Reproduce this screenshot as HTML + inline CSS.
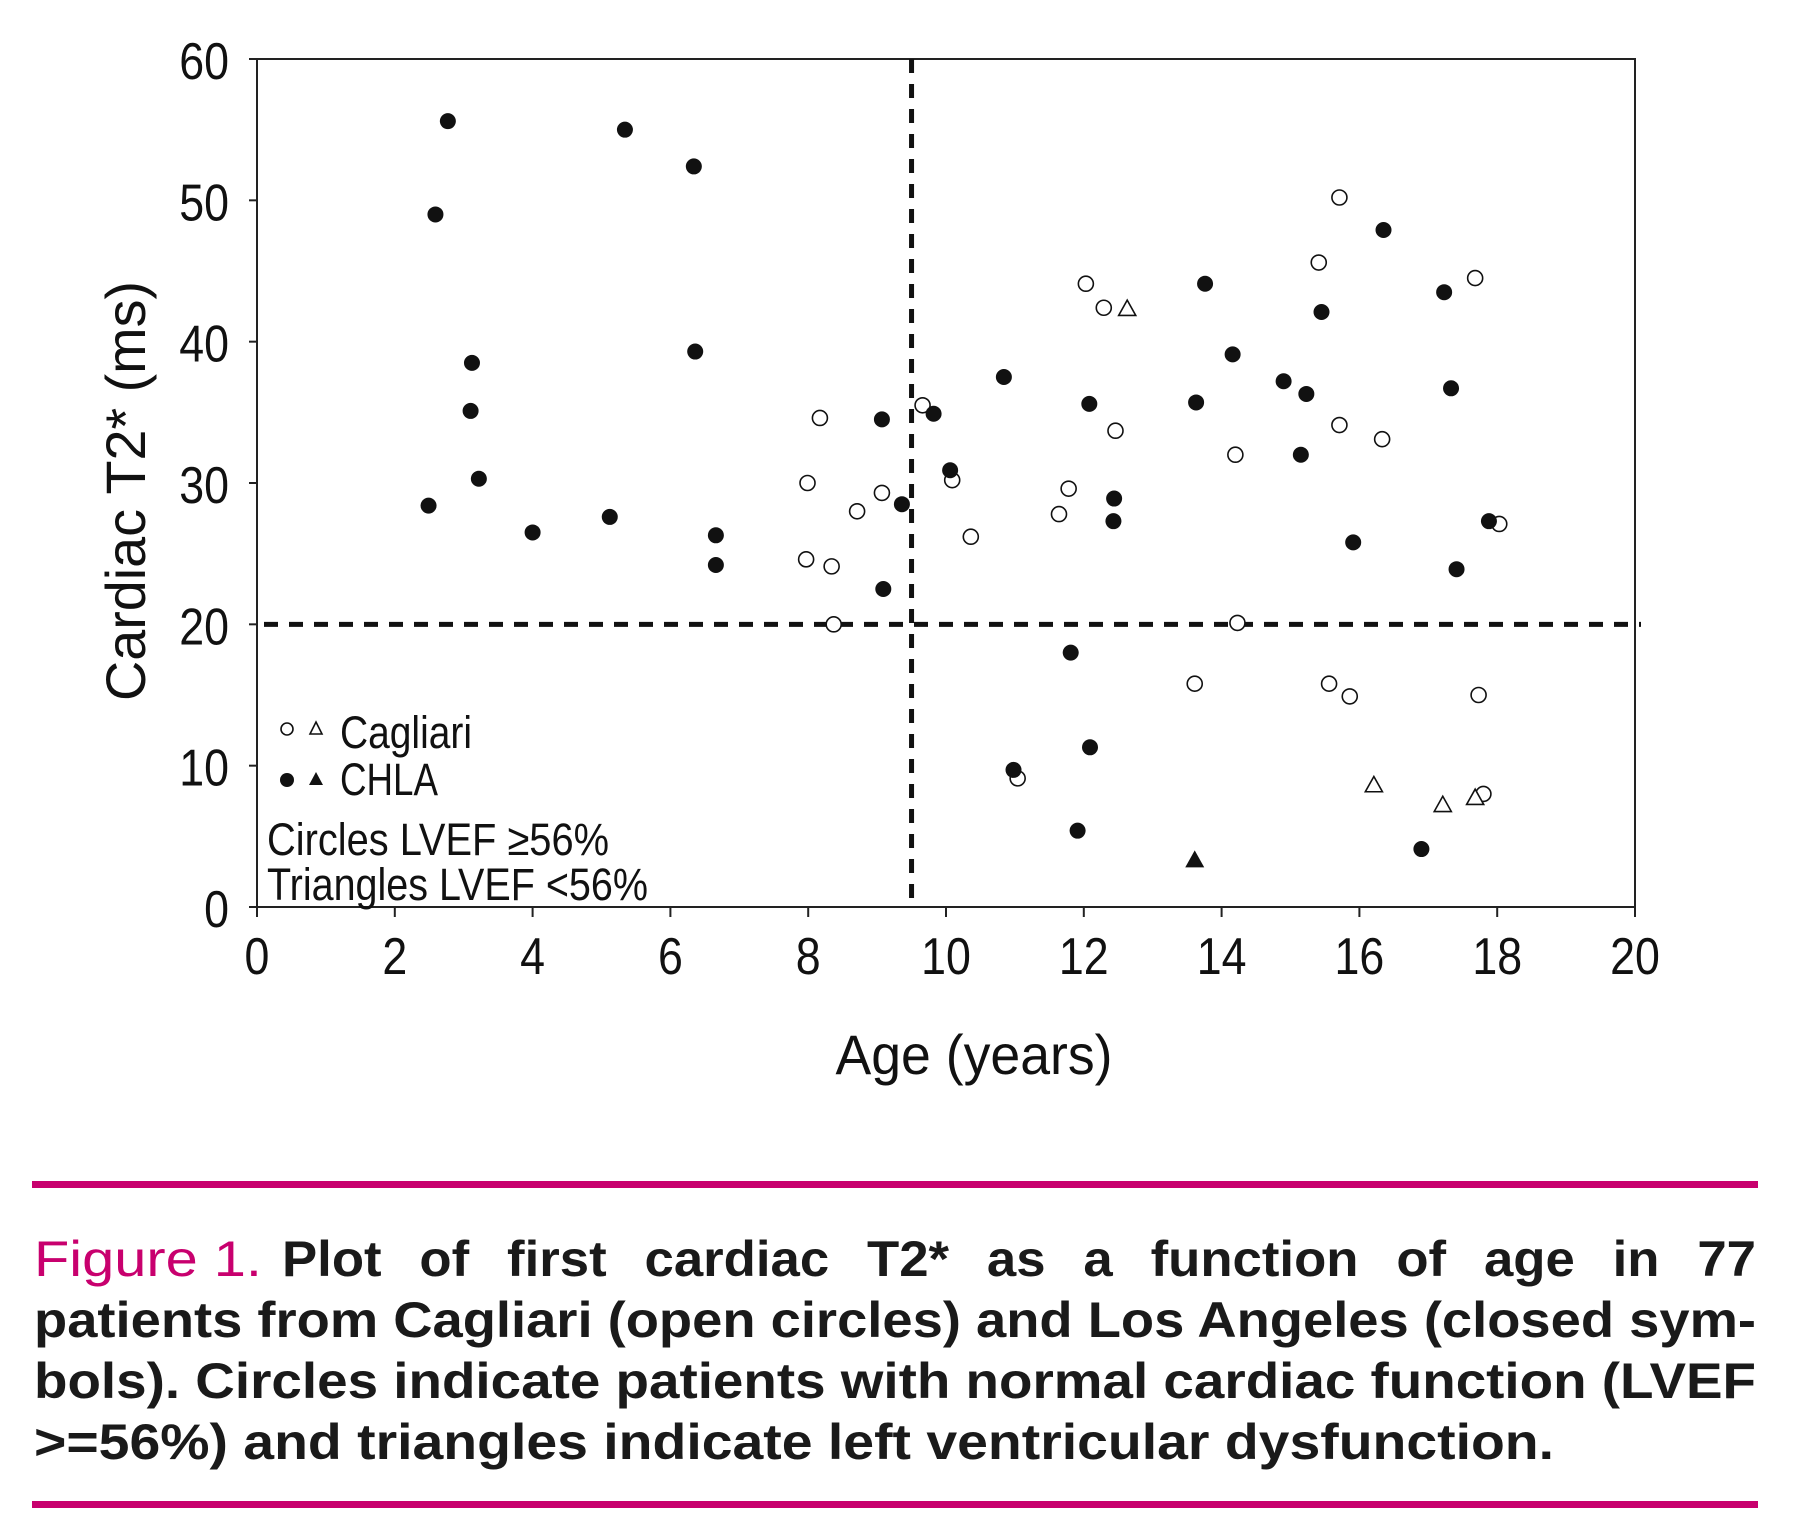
<!DOCTYPE html>
<html><head><meta charset="utf-8"><style>
html,body{margin:0;padding:0;background:#fff;}
svg{display:block;}
</style></head><body>
<svg id="chart" width="1800" height="1540" viewBox="0 0 1800 1540" xmlns="http://www.w3.org/2000/svg" font-family="'Liberation Sans', sans-serif">
<rect x="0" y="0" width="1800" height="1540" fill="#fff"/>
<g id="plot"></g>
<g>
  <circle cx="287" cy="729" r="6" fill="#fff" stroke="#111" stroke-width="1.6"/>
  <polygon points="316,722 322,734 310,734" fill="#fff" stroke="#111" stroke-width="1.6"/>
  <text x="340" y="748" font-size="45" textLength="132" lengthAdjust="spacingAndGlyphs" fill="#111">Cagliari</text>
  <circle cx="287" cy="780" r="7" fill="#111"/>
  <polygon points="316,772 323,785 309,785" fill="#111"/>
  <text x="340" y="795" font-size="45" textLength="98" lengthAdjust="spacingAndGlyphs" fill="#111">CHLA</text>
  <text x="267" y="855" font-size="45" textLength="342" lengthAdjust="spacingAndGlyphs" fill="#111">Circles LVEF ≥56%</text>
  <text x="267" y="900" font-size="45" textLength="381" lengthAdjust="spacingAndGlyphs" fill="#111">Triangles LVEF &lt;56%</text>
</g>
<text transform="translate(145,491) rotate(-90)" text-anchor="middle" font-size="56" textLength="420" lengthAdjust="spacingAndGlyphs" fill="#111">Cardiac T2* (ms)</text>
<text x="974" y="1074" text-anchor="middle" font-size="56" textLength="277" lengthAdjust="spacingAndGlyphs" fill="#111">Age (years)</text>
<rect x="32" y="1181" width="1726" height="7" fill="#c8006e"/>
<rect x="32" y="1501" width="1726" height="7" fill="#c8006e"/>
<g font-size="50" font-weight="bold" fill="#1a1a1a">
  <text x="34" y="1276" font-weight="normal" fill="#c8006e" textLength="228" lengthAdjust="spacingAndGlyphs">Figure 1.</text>
  <text x="282" y="1276" word-spacing="22" textLength="1474" lengthAdjust="spacingAndGlyphs">Plot of first cardiac T2* as a function of age in 77</text>
  <text x="34" y="1337" textLength="1722" lengthAdjust="spacingAndGlyphs">patients from Cagliari (open circles) and Los Angeles (closed sym-</text>
  <text x="34" y="1398" textLength="1722" lengthAdjust="spacingAndGlyphs">bols). Circles indicate patients with normal cardiac function (LVEF</text>
  <text x="34" y="1459" textLength="1520" lengthAdjust="spacingAndGlyphs">&gt;=56%) and triangles indicate left ventricular dysfunction.</text>
</g>
</svg>
<script>
const xTicks = [0,2,4,6,8,10,12,14,16,18,20];
const yTicks = [0,10,20,30,40,50,60];
const chlaCircleAge = [2.49,2.59,2.77,3.12,3.10,3.22,4.00,5.12,5.34,6.34,6.36,6.66,6.66,9.07,9.09,9.36,9.82,10.06,10.84,10.98,11.81,11.91,12.08,12.09,12.44,12.43,13.63,13.76,14.16,14.90,15.15,15.23,15.45,15.91,16.35,16.90,17.23,17.33,17.41,17.88];
const chlaCircleT2 = [28.4,49.0,55.6,38.5,35.1,30.3,26.5,27.6,55.0,52.4,39.3,26.3,24.2,34.5,22.5,28.5,34.9,30.9,37.5,9.7,18.0,5.4,35.6,11.3,28.9,27.3,35.7,44.1,39.1,37.2,32.0,36.3,42.1,25.8,47.9,4.1,43.5,36.7,23.9,27.3];
const chlaTriAge = [13.61];
const chlaTriT2 = [3.3];
const cagCircleAge = [8.17,7.99,7.97,8.34,8.37,8.71,9.07,9.66,10.09,10.36,11.04,11.64,11.78,12.03,12.29,12.46,13.61,14.20,14.23,15.41,15.56,15.71,15.71,15.86,16.33,17.68,17.73,17.80,18.03];
const cagCircleT2 = [34.6,30.0,24.6,24.1,20.0,28.0,29.3,35.5,30.2,26.2,9.1,27.8,29.6,44.1,42.4,33.7,15.8,32.0,20.1,45.6,15.8,50.2,34.1,14.9,33.1,44.5,15.0,8.0,27.1];
const cagTriAge = [12.63,16.21,17.21,17.68];
const cagTriT2 = [42.3,8.6,7.2,7.7];
const ageCutoff = [9.5];
const t2Cutoff = [20];

const NS = "http://www.w3.org/2000/svg";
const L = 257, R = 1635, T = 59, B = 907;
function xs(v){ return L + (v - 0) / 20 * (R - L); }
function ys(v){ return B - (v - 0) / 60 * (B - T); }
const plot = document.getElementById('plot');
function mk(tag, attrs){ const e = document.createElementNS(NS, tag); for (const k in attrs) e.setAttribute(k, attrs[k]); plot.appendChild(e); return e; }

let e = mk('rect', {x:L, y:T, width:R-L, height:B-T, fill:'none', stroke:'#222', 'stroke-width':2});



xTicks.forEach(v => {
  let t = mk('line', {x1:xs(v), x2:xs(v), y1:B, y2:B+10, stroke:'#222', 'stroke-width':2});
  
  
  let l = mk('text', {x:xs(v), y:974, 'text-anchor':'middle', 'font-size':52, fill:'#111', transform:'translate('+xs(v)+',0) scale(0.86,1) translate('+(-xs(v))+',0)'});
  l.textContent = v;
  
  
});
yTicks.forEach(v => {
  let t = mk('line', {x1:L-8, x2:L, y1:ys(v), y2:ys(v), stroke:'#222', 'stroke-width':2});
  
  
  let l = mk('text', {x:229, y:ys(v)+20, 'text-anchor':'end', 'font-size':52, fill:'#111', transform:'translate(229,0) scale(0.86,1) translate(-229,0)'});
  l.textContent = v;
  
  
});

ageCutoff.forEach(v => {
  let d = mk('line', {x1:xs(v), x2:xs(v), y1:T, y2:B, stroke:'#111', 'stroke-width':5, 'stroke-dasharray':'14 11'});
  
  
});
t2Cutoff.forEach(v => {
  let d = mk('line', {x1:264, x2:1641, y1:ys(v), y2:ys(v), stroke:'#111', 'stroke-width':5, 'stroke-dasharray':'14 11'});
  
  
});

function tri(cx, cy, s){ return cx+','+(cy-s)+' '+(cx+s*0.95)+','+(cy+s*0.7)+' '+(cx-s*0.95)+','+(cy+s*0.7); }

cagCircleAge.forEach((a, i) => {
  let c = mk('circle', {cx:xs(a), cy:ys(cagCircleT2[i]), r:7.5, fill:'#fff', stroke:'#111', 'stroke-width':1.6});
  
  
});
cagTriAge.forEach((a, i) => {
  let c = mk('polygon', {points:tri(xs(a), ys(cagTriT2[i]), 9), fill:'#fff', stroke:'#111', 'stroke-width':1.6});
  
  
});
chlaCircleAge.forEach((a, i) => {
  let c = mk('circle', {cx:xs(a), cy:ys(chlaCircleT2[i]), r:8, fill:'#111'});
  
  
});
chlaTriAge.forEach((a, i) => {
  let c = mk('polygon', {points:tri(xs(a), ys(chlaTriT2[i]), 10), fill:'#111'});
  
  
});
</script>
</body></html>
